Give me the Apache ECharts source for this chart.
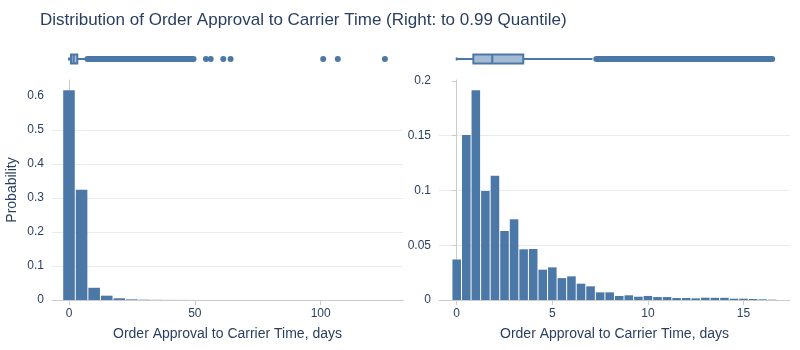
<!DOCTYPE html>
<html>
<head>
<meta charset="utf-8">
<script src="https://cdn.jsdelivr.net/npm/echarts@6/dist/echarts.min.js"></script>
<style>
  html, body { margin: 0; padding: 0; background: #ffffff; }
  #chart { width: 800px; height: 350px; }
</style>
</head>
<body>
<div id="chart"></div>
<script>
// ---- texts ----
const TITLE = 'Distribution of Order Approval to Carrier Time (Right: to 0.99 Quantile)';
const X_NAME = 'Order Approval to Carrier Time, days';
const Y_NAME = 'Probability';

// ---- all orders: 5-day bins (bin centers) and probability per bin ----
const allBinCenters = [0, 5, 10, 15, 20, 25, 30, 35, 40, 45, 50, 55, 60, 65, 100, 105, 125];
const allProb = [0.617, 0.324, 0.036, 0.0127, 0.005, 0.0018, 0.0009, 0.0005, 0.0003, 0.0002,
                 0.0001, 0.00005, 0.00005, 0.00002, 0.00002, 0.00002, 0.00001];
const allBinWidth = 5;

// ---- orders up to the 0.99 quantile: 0.5-day bins ----
const qBinCenters = [0, 0.5, 1, 1.5, 2, 2.5, 3, 3.5, 4, 4.5, 5, 5.5, 6, 6.5, 7, 7.5, 8, 8.5,
                     9, 9.5, 10, 10.5, 11, 11.5, 12, 12.5, 13, 13.5, 14, 14.5, 15, 15.5, 16, 16.5];
const qProb = [0.037, 0.1507, 0.1915, 0.0995, 0.1135, 0.063, 0.0737, 0.0463, 0.0466, 0.0277,
               0.0298, 0.020, 0.0216, 0.0149, 0.0125, 0.007, 0.007, 0.0037, 0.0043, 0.003,
               0.0037, 0.0027, 0.0027, 0.0018, 0.0018, 0.0015, 0.0021, 0.002, 0.002, 0.0012,
               0.0012, 0.0009, 0.0006, 0.0003];
const qBinWidth = 0.5;

// ---- box summaries: [lower whisker, Q1, median, Q3, upper whisker] ----
const allBox = [0, 0.8, 1.85, 3.3, 7.2];
const qBox = [0, 0.87, 1.86, 3.48, 7.1];

// ---- outliers: a dense run [from, to] plus isolated points ----
const allOutlierRun = [7.3, 49.5];
const allOutliers = [54.4, 56.3, 61.3, 64.2, 101, 106.8, 125.5];
const qOutlierRun = [7.3, 16.5];
const qOutliers = [];

// ---- tick labels ----
const xTicksAll = [0, 50, 100];
const xTicksQ = [0, 5, 10, 15];
const yTicksAll = [0, 0.1, 0.2, 0.3, 0.4, 0.5, 0.6];
const yTicksQ = [0, 0.05, 0.1, 0.15, 0.2];

// ---- styles ----
const FONT = 'Liberation Sans, Arial, sans-serif';
const TEXT = '#2a3f5f';
const BAR = '#4c78a8';
const BOX_FILL = 'rgba(76,120,168,0.5)';
const AXIS_LINE = '#cccccc';
const GRID_LINE = '#e8ebef';

const chart = echarts.init(document.getElementById('chart'), null, { renderer: 'canvas' });

function histRender(binWidth) {
  return function (params, api) {
    const x = api.value(0);
    const y = api.value(1);
    const p0 = api.coord([x - binWidth / 2, 0]);
    const p1 = api.coord([x + binWidth / 2, y]);
    const gap = 0.5;
    return {
      type: 'rect',
      shape: { x: p0[0] + gap, y: p1[1], width: p1[0] - p0[0] - 2 * gap, height: p0[1] - p1[1] },
      style: { fill: BAR }
    };
  };
}

function boxRender(params, api) {
  const mn = api.value(0), q1 = api.value(1), md = api.value(2), q3 = api.value(3), mx = api.value(4);
  const cy = api.coord([mn, 0])[1];
  const X = v => api.coord([v, 0])[0];
  const h = 4.5;
  const ls = { stroke: BAR, lineWidth: 2, fill: null };
  return {
    type: 'group',
    children: [
      { type: 'line', shape: { x1: X(mn), y1: cy, x2: X(q1), y2: cy }, style: ls },
      { type: 'line', shape: { x1: X(q3), y1: cy, x2: X(mx), y2: cy }, style: ls },
      { type: 'line', shape: { x1: X(mn), y1: cy - 1.5, x2: X(mn), y2: cy + 1.5 }, style: ls },
      { type: 'rect', shape: { x: X(q1), y: cy - h, width: X(q3) - X(q1), height: 2 * h },
        style: { fill: BOX_FILL, stroke: BAR, lineWidth: 2 } },
      { type: 'line', shape: { x1: X(md), y1: cy - h, x2: X(md), y2: cy + h }, style: ls }
    ]
  };
}

function xAxisHist(idx, min, max, ticks) {
  return {
    type: 'value', gridIndex: idx, min: min, max: max,
    name: X_NAME, nameLocation: 'middle', nameGap: 27,
    nameTextStyle: { color: TEXT, fontSize: 14, fontFamily: FONT },
    axisLine: { show: true, lineStyle: { color: AXIS_LINE } },
    axisTick: { show: true, length: 5, customValues: ticks, lineStyle: { color: AXIS_LINE } },
    axisLabel: { customValues: ticks, color: TEXT, fontSize: 12, fontFamily: FONT, margin: 8 },
    splitLine: { show: false }
  };
}

function yAxisHist(idx, max, interval, ticks, withName) {
  const ax = {
    type: 'value', gridIndex: idx, min: 0, max: max, interval: interval,
    axisLine: { show: true, lineStyle: { color: AXIS_LINE } },
    axisTick: { show: true, length: 5, customValues: ticks, lineStyle: { color: AXIS_LINE } },
    axisLabel: { customValues: ticks, color: TEXT, fontSize: 12, fontFamily: FONT, margin: 8 },
    splitLine: { show: true, showMinLine: false, showMaxLine: false, lineStyle: { color: GRID_LINE } }
  };
  if (withName) {
    ax.name = Y_NAME;
    ax.nameLocation = 'middle';
    ax.nameGap = 33;
    ax.nameTextStyle = { color: TEXT, fontSize: 14, fontFamily: FONT };
  }
  return ax;
}

function hiddenAxis(idx, min, max) {
  return { type: 'value', gridIndex: idx, min: min, max: max, show: false,
           splitLine: { show: false } };
}

const LX = [-6.75, 132.7];
const RX = [-0.926, 17.43];

const option = {
  backgroundColor: '#ffffff',
  animation: false,
  title: {
    text: TITLE, left: 35, top: 7,
    textStyle: { color: TEXT, fontSize: 17, fontWeight: 'normal', fontFamily: FONT }
  },
  grid: [
    { left: 52, top: 80, width: 351, height: 220 },
    { left: 439, top: 80, width: 351, height: 220 },
    { left: 52, top: 44, width: 351, height: 30 },
    { left: 439, top: 44, width: 351, height: 30 }
  ],
  xAxis: [
    xAxisHist(0, LX[0], LX[1], xTicksAll),
    xAxisHist(1, RX[0], RX[1], xTicksQ),
    hiddenAxis(2, LX[0], LX[1]),
    hiddenAxis(3, RX[0], RX[1])
  ],
  yAxis: [
    yAxisHist(0, 0.647, 0.1, yTicksAll, true),
    yAxisHist(1, 0.2009, 0.05, yTicksQ, false),
    hiddenAxis(2, -1, 1),
    hiddenAxis(3, -1, 1)
  ],
  series: [
    { type: 'custom', xAxisIndex: 0, yAxisIndex: 0, clip: true,
      renderItem: histRender(allBinWidth),
      data: allBinCenters.map((c, i) => [c, allProb[i]]) },
    { type: 'custom', xAxisIndex: 1, yAxisIndex: 1, clip: true,
      renderItem: histRender(qBinWidth),
      data: qBinCenters.map((c, i) => [c, qProb[i]]) },
    // box outlines
    { type: 'custom', xAxisIndex: 2, yAxisIndex: 2, renderItem: boxRender, data: [allBox] },
    { type: 'custom', xAxisIndex: 3, yAxisIndex: 3, renderItem: boxRender, data: [qBox] },
    // dense outlier runs
    { type: 'line', xAxisIndex: 2, yAxisIndex: 2, symbol: 'none',
      lineStyle: { color: BAR, width: 6, cap: 'round' },
      data: allOutlierRun.map(v => [v, 0]) },
    { type: 'line', xAxisIndex: 3, yAxisIndex: 3, symbol: 'none',
      lineStyle: { color: BAR, width: 6, cap: 'round' },
      data: qOutlierRun.map(v => [v, 0]) },
    // isolated outliers
    { type: 'scatter', xAxisIndex: 2, yAxisIndex: 2, symbolSize: 6,
      itemStyle: { color: BAR, opacity: 1 },
      data: allOutliers.map(v => [v, 0]) },
    { type: 'scatter', xAxisIndex: 3, yAxisIndex: 3, symbolSize: 6,
      itemStyle: { color: BAR, opacity: 1 },
      data: qOutliers.map(v => [v, 0]) }
  ]
};

chart.setOption(option);
</script>
</body>
</html>
